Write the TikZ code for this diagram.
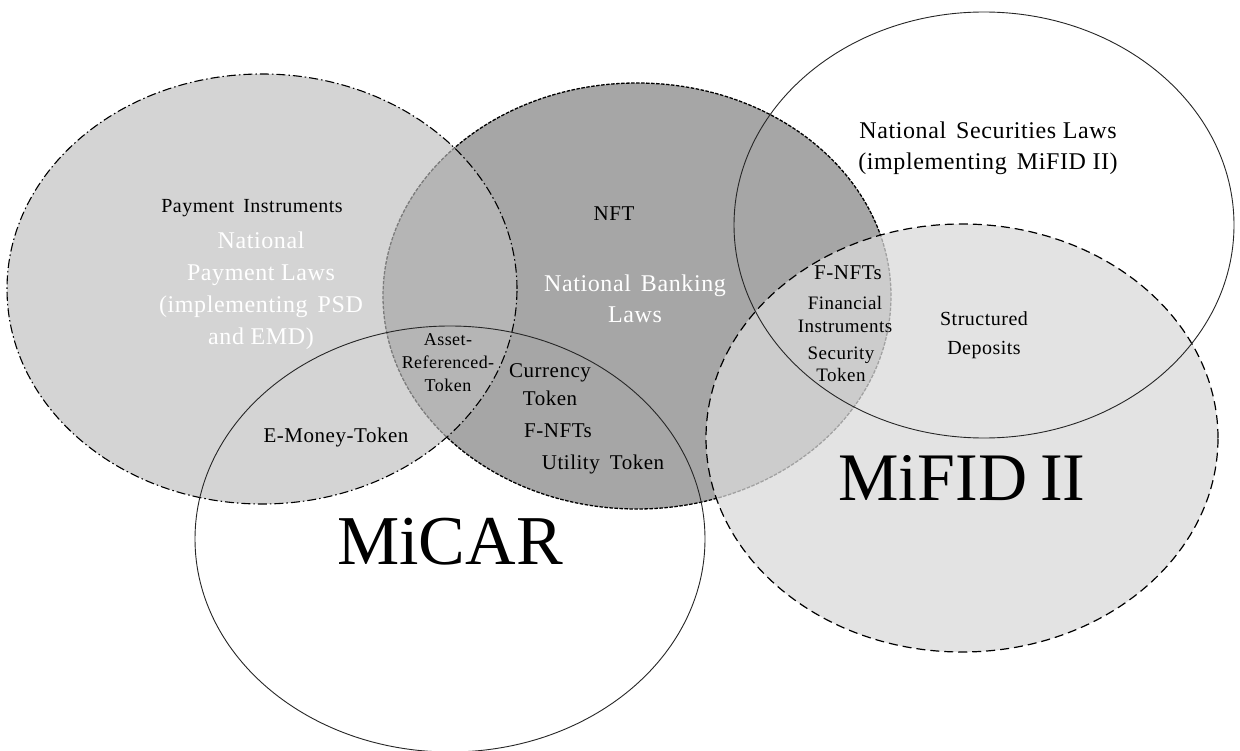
\documentclass[tikz,border=0pt]{standalone}
\usepackage{fontspec}
\setmainfont{Liberation Serif}
\newfontfamily\spacedserif[LetterSpace=2.5]{Liberation Serif}
\begin{document}
\begin{tikzpicture}[x=1pt,y=-1pt,
  lbl/.style={inner sep=0pt, align=center, text=black},
  wlbl/.style={inner sep=0pt, align=center, text=white},
  fs/.style={font=\spacedserif\fontsize{#1}{#1}\selectfont},
  big/.style={font=\fontsize{#1}{#1}\selectfont},
  bankfill/.style={fill=bankgray, draw=black, line width=1.3pt, dash pattern=on 3.5pt off 1.5pt},
  payfill/.style={fill=paygray, fill opacity=0.65, draw=black, draw opacity=1, line width=1.1pt, dash pattern=on 9pt off 3pt on 1.5pt off 3pt},
  mififill/.style={fill=mifigray, fill opacity=0.74, draw=black, draw opacity=1, line width=1.2pt, dash pattern=on 9pt off 5pt},
  outline/.style={draw=black!85, line width=0.9pt}
]
\definecolor{bankgray}{RGB}{166,166,166}
\definecolor{paygray}{RGB}{190,190,190}
\definecolor{mifigray}{RGB}{218,218,218}
\fill[white] (0,0) rectangle (1240,751);
\useasboundingbox (0,0) rectangle (1240,751);

% ellipses
\path[bankfill] (637,296) ellipse [x radius=254pt, y radius=213pt];
\path[payfill] (262,289) ellipse [x radius=255pt, y radius=215pt];
\path[mififill] (962,438) ellipse [x radius=256pt, y radius=214pt];
\path[outline] (450,539) ellipse [x radius=255pt, y radius=213pt];
\path[outline] (984,225) ellipse [x radius=250pt, y radius=213pt];

% labels
\node[lbl, fs=20] (payinstr) at (252,208) {Payment\hspace{9pt}Instruments};
\node[wlbl, fs=24, execute at begin node={\setlength{\baselineskip}{32pt}}] (paylaws) at (261,291)
  {National\\Payment Laws\\(implementing\hspace{10pt}PSD\\and EMD)};
\node[lbl, fs=21] (nft) at (614,214) {NFT};
\node[wlbl, fs=24, execute at begin node={\setlength{\baselineskip}{31pt}}] (banklaws) at (635,299)
  {National\hspace{10pt}Banking\\Laws};
\node[lbl, fs=24, execute at begin node={\setlength{\baselineskip}{31pt}}] (seclaws) at (988,148)
  {National\hspace{10pt}Securities Laws\\(implementing\hspace{10pt}MiFID II)};
\node[lbl, fs=21] (fnft1) at (848,273) {F-NFTs};
\node[lbl, fs=19, execute at begin node={\setlength{\baselineskip}{23pt}}] (fininstr) at (845,315)
  {Financial\\Instruments};
\node[lbl, fs=19, execute at begin node={\setlength{\baselineskip}{22pt}}] (sectok) at (841,364)
  {Security\\Token};
\node[lbl, fs=20, execute at begin node={\setlength{\baselineskip}{29pt}}] (structdep) at (984,335)
  {Structured\\Deposits};
\node[lbl, fs=18, execute at begin node={\setlength{\baselineskip}{23pt}}] (art) at (448,363)
  {Asset-\\Referenced-\\Token};
\node[lbl, fs=21, execute at begin node={\setlength{\baselineskip}{28pt}}] (curtok) at (550,385)
  {Currency\\Token};
\node[lbl, fs=21] (fnft2) at (558,431) {F-NFTs};
\node[lbl, fs=21] (utiltok) at (603,464) {Utility\hspace{10pt}Token};
\node[lbl, fs=21] (emt) at (336,437) {E-Money-Token};
\node[lbl, big=70] (micar) at (450,542) {MiCAR};
\node[lbl, big=68] (mifid) at (962,478) {MiFID\hspace{-4pt} II};
\end{tikzpicture}
\end{document}
